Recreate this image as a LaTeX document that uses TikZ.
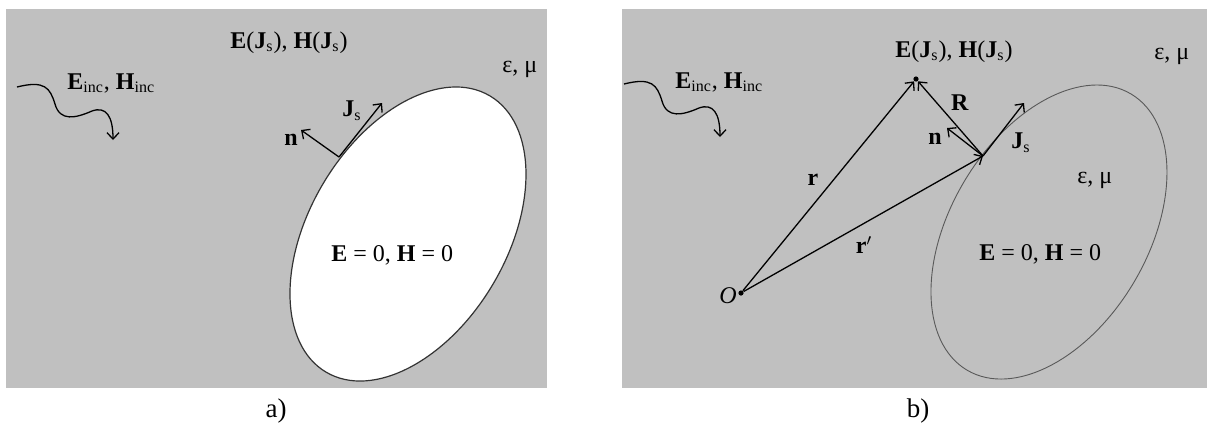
\documentclass[tikz,border=0pt]{standalone}
\usepackage{fontspec}
\setmainfont{Liberation Serif}
\usetikzlibrary{arrows.meta}
\definecolor{bggray}{RGB}{192,192,192}

\begin{document}
\begin{tikzpicture}[
    x=0.5pt, y=-0.5pt,
    every node/.style={font=\fontsize{12}{14}\selectfont, inner sep=0pt},
    lbl/.style={anchor=base west},
    caption/.style={font=\fontsize{13.5}{16}\selectfont},
    scatterer/.style={draw=black!80, line width=0.6pt},
    outline/.style={draw=black!65, line width=0.45pt},
    vec/.style={-{Straight Barb[length=3.2pt, width=6pt]}, line width=0.65pt},
    wave/.style={-{Straight Barb[length=3.2pt, width=6pt]}, line width=0.65pt},
    dot/.style={circle, fill=black, minimum size=2.6pt, inner sep=0pt}
]
\useasboundingbox (0,0) rectangle (1207,424);

% a) perfectly conducting body
\fill[bggray] (6,9) rectangle (547,388);
\coordinate (ca) at (408,234);
\draw[scatterer, fill=white, rotate around={59.3:(ca)}] (ca) ellipse (160.6 and 98.7);
\coordinate (wa) at (17,87);
\draw[wave] (wa) .. controls (45,80) and (50,88) .. (55,104) .. controls (60,122) and (76,118) .. (92,111) .. controls (106,106) and (113,116) .. (113,140);
\coordinate (Sa) at (339,157);
\coordinate (Jatip) at (382,103);
\coordinate (natip) at (301,130);
\draw[vec] (Sa) -- (Jatip);
\draw[vec] (Sa) -- (natip);
\node[lbl] (inca) at (67,89) {\textbf{E}\textsubscript{inc}, \textbf{H}\textsubscript{inc}};
\node[lbl] (fielda) at (230,48) {\textbf{E}(\textbf{J}\textsubscript{s}), \textbf{H}(\textbf{J}\textsubscript{s})};
\node[lbl] (epsa) at (502,72) {ε, μ};
\node (Ja) at (352,111) {\textbf{J}\textsubscript{s}};
\node (na) at (291,140) {\textbf{n}};
\node[lbl] (zeroa) at (331,261) {\textbf{E} = 0, \textbf{H} = 0};
\node[caption] (capa) at (276,411) {a)};

% b) equivalent problem
\fill[bggray] (622,9) rectangle (1207,388);
\coordinate (cb) at (1049,232);
\draw[outline, rotate around={59.3:(cb)}] (cb) ellipse (160.6 and 98.7);
\coordinate (wb) at (624,84);
\draw[wave] (wb) .. controls (652,77) and (657,85) .. (662,101) .. controls (667,119) and (683,115) .. (699,108) .. controls (713,103) and (720,113) .. (720,137);
\node[dot] (O) at (741,293) {};
\node[dot] (P) at (916,79) {};
\coordinate (S) at (983,156);
\coordinate (Jbtip) at (1024,103);
\coordinate (nbtip) at (947,128);
\draw[vec] (O) -- (P);
\draw[vec] (O) -- (S);
\draw[vec] (S) -- (P);
\draw[vec] (S) -- (Jbtip);
\draw[vec] (S) -- (nbtip);
\node[lbl] (incb) at (675,88) {\textbf{E}\textsubscript{inc}, \textbf{H}\textsubscript{inc}};
\node[lbl] (fieldb) at (895,57) {\textbf{E}(\textbf{J}\textsubscript{s}), \textbf{H}(\textbf{J}\textsubscript{s})};
\node[lbl] (epsb) at (1154,59) {ε, μ};
\node[lbl] (epsin) at (1077,183) {ε, μ};
\node (Ol) at (728,296) {\textit{O}};
\node (rl) at (813,180) {\textbf{r}};
\node (rpl) at (864,245) {\textbf{r}$'$};
\node (Rl) at (960,103) {\textbf{R}};
\node (nb) at (935,139) {\textbf{n}};
\node (Jb) at (1021,143) {\textbf{J}\textsubscript{s}};
\node[lbl] (zerob) at (979,260) {\textbf{E} = 0, \textbf{H} = 0};
\node[caption] (capb) at (918,411) {b)};
\end{tikzpicture}
\end{document}
